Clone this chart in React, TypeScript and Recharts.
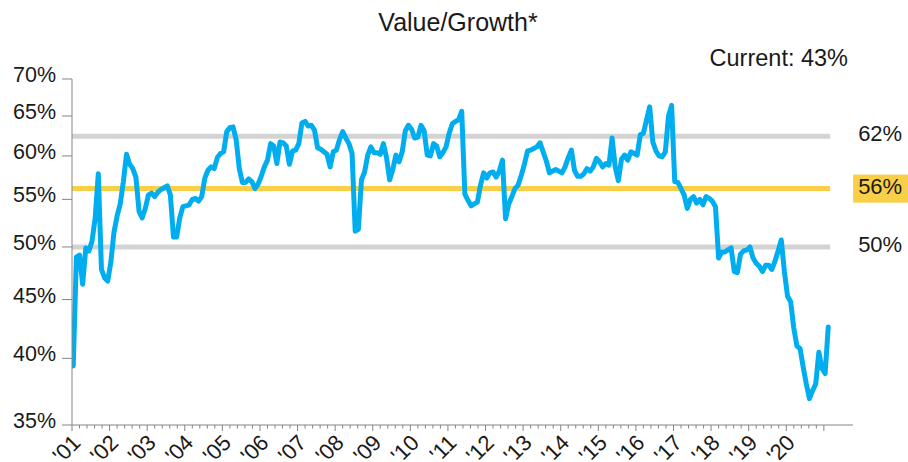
import React from 'react';
import { LineChart, Line, XAxis, YAxis, ReferenceLine } from 'recharts';

// Monthly Value/Growth readings (%), Jan 2001 onward
const values2001 = [39.4, 49.0, 49.2, 46.4, 49.9, 49.6, 50.6, 53.0, 57.9, 47.8, 47.0, 46.7];
const values2002 = [48.5, 51.5, 53.2, 54.5, 57.0, 60.2, 59.0, 58.5, 57.5, 53.7, 53.0, 54.0];
const values2003 = [55.5, 55.7, 55.3, 55.8, 56.1, 56.3, 56.5, 55.5, 51.0, 51.0, 53.0, 54.2];
const values2004 = [54.3, 54.4, 55.0, 55.1, 54.8, 55.3, 57.4, 58.3, 58.7, 58.5, 59.8, 60.3];
const values2005 = [60.5, 63.0, 63.5, 63.6, 62.0, 58.5, 56.9, 56.9, 57.3, 57.0, 56.2, 56.7];
const values2006 = [57.6, 58.7, 59.5, 61.5, 61.2, 59.1, 61.7, 61.6, 61.2, 59.0, 60.6, 60.7];
const values2007 = [61.5, 64.1, 64.3, 63.7, 63.8, 63.2, 61.0, 60.8, 60.5, 60.2, 58.7, 60.5];
const values2008 = [60.7, 62.0, 63.0, 62.2, 61.5, 60.3, 51.6, 51.8, 57.2, 58.1, 60.1, 61.1];
const values2009 = [60.4, 60.4, 60.2, 61.5, 59.8, 57.2, 58.4, 60.1, 59.3, 60.5, 63.1, 63.8];
const values2010 = [63.3, 62.2, 62.3, 63.8, 63.1, 60.1, 60.0, 61.5, 61.2, 59.9, 60.4, 61.1];
const values2011 = [62.8, 64.0, 64.3, 64.5, 65.6, 55.6, 54.9, 54.3, 54.5, 54.7, 56.6, 58.0];
const values2012 = [57.4, 58.0, 58.1, 57.5, 58.2, 59.5, 52.9, 54.5, 55.3, 56.2, 56.6, 57.7];
const values2013 = [59.0, 60.6, 60.7, 60.9, 61.1, 61.6, 60.5, 59.4, 58.0, 58.2, 58.4, 58.2];
const values2014 = [58.0, 58.7, 59.8, 60.7, 58.3, 57.6, 57.6, 57.9, 58.5, 58.2, 58.7, 59.7];
const values2015 = [59.3, 58.7, 59.1, 58.9, 62.2, 58.7, 57.1, 59.6, 60.1, 59.5, 60.5, 60.3];
const values2016 = [60.1, 62.6, 62.8, 64.5, 66.2, 61.7, 60.6, 60.0, 59.9, 60.5, 65.0, 66.4];
const values2017 = [57.0, 56.9, 56.2, 55.5, 54.0, 55.0, 55.3, 54.6, 55.0, 54.4, 55.3, 55.1];
const values2018 = [54.8, 54.2, 48.9, 49.5, 49.5, 49.7, 49.9, 47.6, 47.5, 49.3, 49.6, 49.7];
const values2019 = [50.0, 48.9, 48.4, 48.1, 47.6, 48.2, 48.2, 47.8, 48.6, 49.6, 50.7, 47.6];
const values2020 = [45.3, 44.8, 42.5, 41.0, 40.8, 39.3, 38.0, 36.9, 37.5, 38.0, 40.5, 39.2];
const values2021 = [38.8, 42.6];

const yearLabels = ["'01", "'02", "'03", "'04", "'05", "'06", "'07", "'08", "'09", "'10",
  "'11", "'12", "'13", "'14", "'15", "'16", "'17", "'18", "'19", "'20"];
const yTicks = [35, 40, 45, 50, 55, 60, 65, 70];

// Horizontal reference levels: +1 sd, average, -1 sd
const levelValues = [62.4, 56.2, 50.0];
const levelLabels = ['62%', '56%', '50%'];

const titleText = 'Value/Growth*';
const currentText = 'Current: 43%';

const allValues = [
  ...values2001, ...values2002, ...values2003, ...values2004, ...values2005, ...values2006,
  ...values2007, ...values2008, ...values2009, ...values2010, ...values2011, ...values2012,
  ...values2013, ...values2014, ...values2015, ...values2016, ...values2017, ...values2018,
  ...values2019, ...values2020, ...values2021,
];
const data = allValues.map((v, i) => ({ t: i + 0.4, v }));

const STEP = 2.4; // minor tick spacing in months (5 per year)
const xTicks: number[] = [];
for (let k = 0; k <= 100; k++) xTicks.push(+(k * STEP).toFixed(2));

const FONT = '"Liberation Sans", Arial, Helvetica, sans-serif';
const BLUE = '#00aeef';
const GRAY = '#d3d3d3';
const YELLOW = '#f8cf46';
const AXIS = '#858585';
const TEXT = '#1a1a1a';
const levelColors = [GRAY, YELLOW, GRAY];

const XTick = (props: any) => {
  const { x, y, payload } = props;
  const k = Math.round(payload.value / STEP);
  const major = k % 5 === 0;
  const label = major ? yearLabels[k / 5] : undefined;
  const ax = x + 10;
  const ay = y + 19;
  return (
    <g>
      <line x1={x} x2={x} y1={y} y2={y + (major ? 6 : 3.5)} stroke={AXIS} strokeWidth={1} />
      {label && (
        <text x={ax} y={ay} transform={`rotate(-45 ${ax} ${ay})`} textAnchor="end"
          fontSize={22} fontFamily={FONT} fill={TEXT}>{label}</text>
      )}
    </g>
  );
};

const YTick = (props: any) => {
  const { x, y, payload } = props;
  return (
    <text x={x} y={y} dy={3} textAnchor="end" fontSize={21.5} fontFamily={FONT} fill={TEXT}>
      {payload.value}%
    </text>
  );
};

const LevelLabel = (props: any) => {
  const { viewBox, text, highlight } = props;
  if (!viewBox) return null;
  const endX = viewBox.x + viewBox.width;
  const cy = viewBox.y;
  return (
    <g>
      {highlight && <rect x={endX + 23} y={cy - 14} width={60} height={28} fill={YELLOW} />}
      <text x={endX + 28} y={cy} dy={5} fontSize={22} fontFamily={FONT} fill={TEXT}>{text}</text>
    </g>
  );
};

export default function App() {
  return (
    <div style={{ position: 'absolute', left: 0, top: 0, width: 908, height: 462, background: '#fff', overflow: 'hidden' }}>
      <LineChart width={908} height={462} data={data} margin={{ top: 79, right: 55, bottom: 0, left: 0 }}>
        <XAxis dataKey="t" type="number" domain={[0, 249.3]} ticks={xTicks} interval={0}
          tick={<XTick />} tickLine={false} tickSize={0} tickMargin={0}
          axisLine={{ stroke: AXIS, strokeWidth: 1 }} height={37} allowDataOverflow />
        <YAxis type="number" scale="log" domain={[35, 70]} ticks={yTicks} interval={0} width={72}
          tick={<YTick />} tickSize={10} tickMargin={6} tickLine={{ stroke: AXIS }}
          axisLine={{ stroke: AXIS, strokeWidth: 1 }} allowDataOverflow />
        {levelValues.map((lv, i) => (
          <ReferenceLine key={i} segment={[{ x: 0, y: lv }, { x: 242, y: lv }]}
            stroke={levelColors[i]} strokeWidth={5} ifOverflow="visible"
            label={<LevelLabel text={levelLabels[i]} highlight={i === 1} />} />
        ))}
        <Line dataKey="v" type="linear" stroke={BLUE} strokeWidth={5} dot={false}
          strokeLinejoin="round" strokeLinecap="round" isAnimationActive={false} />
      </LineChart>
      <svg width={908} height={462} style={{ position: 'absolute', left: 0, top: 0, pointerEvents: 'none' }}>
        <text x={458} y={31} textAnchor="middle" fontSize={25} fontFamily={FONT} fill={TEXT}>{titleText}</text>
        <text x={848} y={66} textAnchor="end" fontSize={23.5} fontFamily={FONT} fill={TEXT}>{currentText}</text>
      </svg>
    </div>
  );
}
